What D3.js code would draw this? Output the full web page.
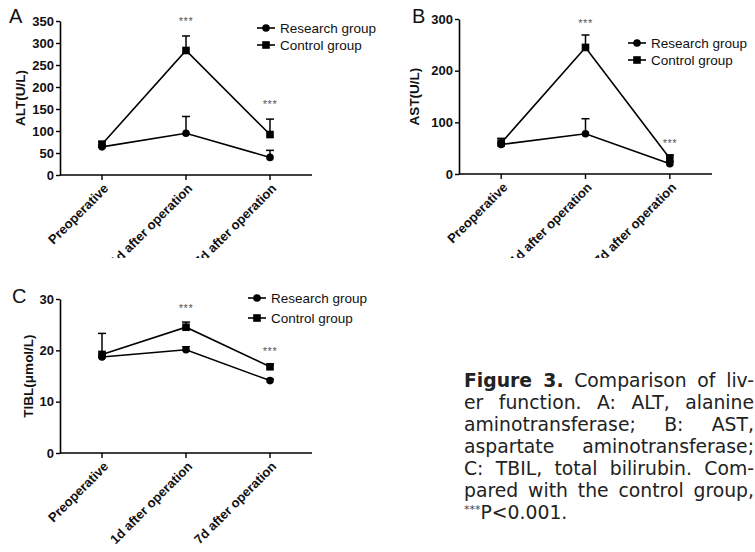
<!DOCTYPE html>
<html>
<head>
<meta charset="utf-8">
<script src="https://cdn.jsdelivr.net/npm/d3@7"></script>
<style>
  body { margin: 0; background: white; width: 755px; height: 552px; overflow: hidden; position: relative; }
  svg { position: absolute; left: 0; top: 0; }
  .caption { position: absolute; left: 464px; top: 370px; width: 290px;
             font-family: "DejaVu Sans", sans-serif; font-size: 18.8px; line-height: 22px; color: #222; }
  .caption div { text-align: justify; text-align-last: justify; white-space: nowrap; }
  .caption div.last { text-align-last: left; }
  .caption sup { font-size: 11px; vertical-align: 6px; line-height: 0; color: #444; }
</style>
</head>
<body>
<script>

// time points on the x axis
const timepoints = ["Preoperative", "1d after operation", "7d after operation"];
const seriesNames = ["Research group", "Control group"];

// ALT (U/L): mean and SD
const altResearch = [64, 95, 40];
const altResearchSd = [4, 38, 16];
const altControl = [70, 283, 92];
const altControlSd = [6, 33, 35];
const altTicks = [0, 50, 100, 150, 200, 250, 300, 350];

// AST (U/L)
const astResearch = [57, 78, 20];
const astResearchSd = [4, 29, 4];
const astControl = [60, 245, 30];
const astControlSd = [9, 24, 7];
const astTicks = [0, 100, 200, 300];

// TBIL (umol/L)
const tbilResearch = [18.7, 20.1, 14.1];
const tbilResearchSd = [0.4, 0.6, 0.3];
const tbilControl = [19.2, 24.5, 16.8];
const tbilControlSd = [4.1, 1.0, 0.4];
const tbilTicks = [0, 10, 20, 30];

// time points marked with *** (compared with control)
const significant = ["1d after operation", "7d after operation"];

const font = "Arial, 'Liberation Sans', Helvetica, sans-serif";

let svg = d3.select("body")
  .append("svg")
  .attr("width", 755)
  .attr("height", 552)
  .style("font-family", font);

// the top row is cut off just under the tick labels
svg.append("defs").append("clipPath")
  .attr("id", "topclip")
  .append("rect")
  .attr("x", 0).attr("y", 0)
  .attr("width", 755).attr("height", 258);

let topRow = svg.append("g").attr("clip-path", "url(#topclip)");

function drawPanel(g, cfg) {

  var x = d3.scalePoint()
    .domain(timepoints)
    .range([cfg.x0, cfg.x1])
    .padding(0.5);

  var y = d3.scaleLinear()
    .domain([0, d3.max(cfg.ticks)])
    .range([cfg.yBottom, cfg.yTop]);

  // Y axis
  let yAxis = g.append("g")
    .attr("transform", "translate(" + cfg.x0 + ",0)")
    .call(d3.axisLeft(y).tickValues(cfg.ticks).tickSize(4).tickSizeOuter(0));
  yAxis.select(".domain").attr("stroke-width", 1.6);
  yAxis.selectAll(".tick line").attr("stroke-width", 1.4);
  yAxis.selectAll(".tick text")
    .attr("font-family", font)
    .attr("font-size", 13)
    .attr("font-weight", "bold")
    .attr("fill", "#111")
    .attr("x", -6);

  // X axis: line runs from the y axis, ticks at the time points
  g.append("line")
    .attr("x1", cfg.x0).attr("x2", cfg.x1)
    .attr("y1", cfg.yBottom).attr("y2", cfg.yBottom)
    .attr("stroke", "black")
    .attr("stroke-width", 1.6);
  g.selectAll(".xtick")
    .data(timepoints)
    .enter()
    .append("line")
    .attr("x1", d => x(d)).attr("x2", d => x(d))
    .attr("y1", cfg.yBottom).attr("y2", cfg.yBottom + 5)
    .attr("stroke", "black")
    .attr("stroke-width", 1.4);
  g.selectAll(".xlab")
    .data(timepoints)
    .enter()
    .append("text")
    .attr("transform", d => "translate(" + (x(d) + 4) + "," + (cfg.yBottom + 11) + ") rotate(-45)")
    .attr("text-anchor", "end")
    .attr("dy", "0.35em")
    .attr("font-size", 13)
    .attr("font-weight", "bold")
    .attr("fill", "#111")
    .text(d => d);

  // axis title
  g.append("text")
    .attr("transform", "translate(" + (cfg.x0 - cfg.titleOffset) + "," + ((cfg.yTop + cfg.yBottom) / 2) + ") rotate(-90)")
    .attr("text-anchor", "middle")
    .attr("dy", "0.35em")
    .attr("font-size", 13.5)
    .attr("font-weight", "bold")
    .attr("fill", "#111")
    .text(cfg.title);

  // panel letter
  g.append("text")
    .attr("x", cfg.letterX)
    .attr("y", cfg.letterY)
    .attr("font-size", 20)
    .attr("fill", "#111")
    .text(cfg.letter);

  var series = [
    {name: seriesNames[0], values: cfg.research, sd: cfg.researchSd, shape: "circle"},
    {name: seriesNames[1], values: cfg.control, sd: cfg.controlSd, shape: "square"}
  ];

  var line = d3.line()
    .x((d, i) => x(timepoints[i]))
    .y(d => y(d));

  series.forEach(function(s) {
    g.append("path")
      .datum(s.values)
      .attr("fill", "none")
      .attr("stroke", "black")
      .attr("stroke-width", 1.6)
      .attr("d", line);

    // error bars (upper half only)
    s.values.forEach(function(v, i) {
      var cx = x(timepoints[i]);
      var top = y(v + s.sd[i]);
      g.append("line")
        .attr("x1", cx).attr("x2", cx)
        .attr("y1", y(v)).attr("y2", top)
        .attr("stroke", "black").attr("stroke-width", 1.5);
      g.append("line")
        .attr("x1", cx - 4).attr("x2", cx + 4)
        .attr("y1", top).attr("y2", top)
        .attr("stroke", "black").attr("stroke-width", 1.5);
    });

    s.values.forEach(function(v, i) {
      drawMarker(g, s.shape, x(timepoints[i]), y(v));
    });
  });

  // significance stars above the control error bar
  significant.forEach(function(t) {
    var i = timepoints.indexOf(t);
    var top = y(Math.max(cfg.control[i] + cfg.controlSd[i], cfg.research[i] + cfg.researchSd[i]));
    g.append("text")
      .attr("x", x(t))
      .attr("y", top - cfg.starGap)
      .attr("text-anchor", "middle")
      .attr("font-size", 11)
      .attr("letter-spacing", 0.5)
      .attr("fill", "#555")
      .text("***");
  });

  // legend
  series.forEach(function(s, k) {
    var ly = cfg.legendY + k * cfg.legendStep;
    g.append("line")
      .attr("x1", cfg.legendX).attr("x2", cfg.legendX + 18)
      .attr("y1", ly).attr("y2", ly)
      .attr("stroke", "black").attr("stroke-width", 1.6);
    drawMarker(g, s.shape, cfg.legendX + 9, ly);
    g.append("text")
      .attr("x", cfg.legendX + 23)
      .attr("y", ly)
      .attr("dy", "0.35em")
      .attr("font-size", 13.5)
      .attr("fill", "#111")
      .text(s.name);
  });
}

function drawMarker(g, shape, cx, cy) {
  if (shape === "circle") {
    g.append("circle")
      .attr("cx", cx).attr("cy", cy)
      .attr("r", 3.8)
      .attr("fill", "black");
  } else {
    g.append("rect")
      .attr("x", cx - 3.8).attr("y", cy - 3.8)
      .attr("width", 7.6).attr("height", 7.6)
      .attr("fill", "black");
  }
}

drawPanel(topRow.append("g"), {
  letter: "A", letterX: 9, letterY: 23,
  x0: 60, x1: 312, yTop: 21, yBottom: 175,
  ticks: altTicks, title: "ALT(U/L)", titleOffset: 40,
  research: altResearch, researchSd: altResearchSd,
  control: altControl, controlSd: altControlSd,
  starGap: 11,
  legendX: 257, legendY: 28, legendStep: 17
});

drawPanel(topRow.append("g"), {
  letter: "B", letterX: 412, letterY: 23,
  x0: 459, x1: 712, yTop: 19, yBottom: 174,
  ticks: astTicks, title: "AST(U/L)", titleOffset: 45,
  research: astResearch, researchSd: astResearchSd,
  control: astControl, controlSd: astControlSd,
  starGap: 8,
  legendX: 628, legendY: 43, legendStep: 17
});

drawPanel(svg.append("g"), {
  letter: "C", letterX: 12, letterY: 303,
  x0: 60, x1: 312, yTop: 299, yBottom: 453,
  ticks: tbilTicks, title: "TIBL(\u03bcmol/L)", titleOffset: 32,
  research: tbilResearch, researchSd: tbilResearchSd,
  control: tbilControl, controlSd: tbilControlSd,
  starGap: 10,
  legendX: 248, legendY: 298, legendStep: 20
});

// figure caption
const captionLines = [
  "<b>Figure 3.</b> Comparison of liv-",
  "er function. A: ALT, alanine",
  "aminotransferase; B: AST,",
  "aspartate aminotransferase;",
  "C: TBIL, total bilirubin. Com-",
  "pared with the control group,",
  "<sup>***</sup>P&lt;0.001."
];

d3.select("body")
  .append("div")
  .attr("class", "caption")
  .selectAll("div")
  .data(captionLines)
  .enter()
  .append("div")
  .attr("class", (d, i) => i === captionLines.length - 1 ? "last" : null)
  .html(d => d);

</script>
</body>
</html>
